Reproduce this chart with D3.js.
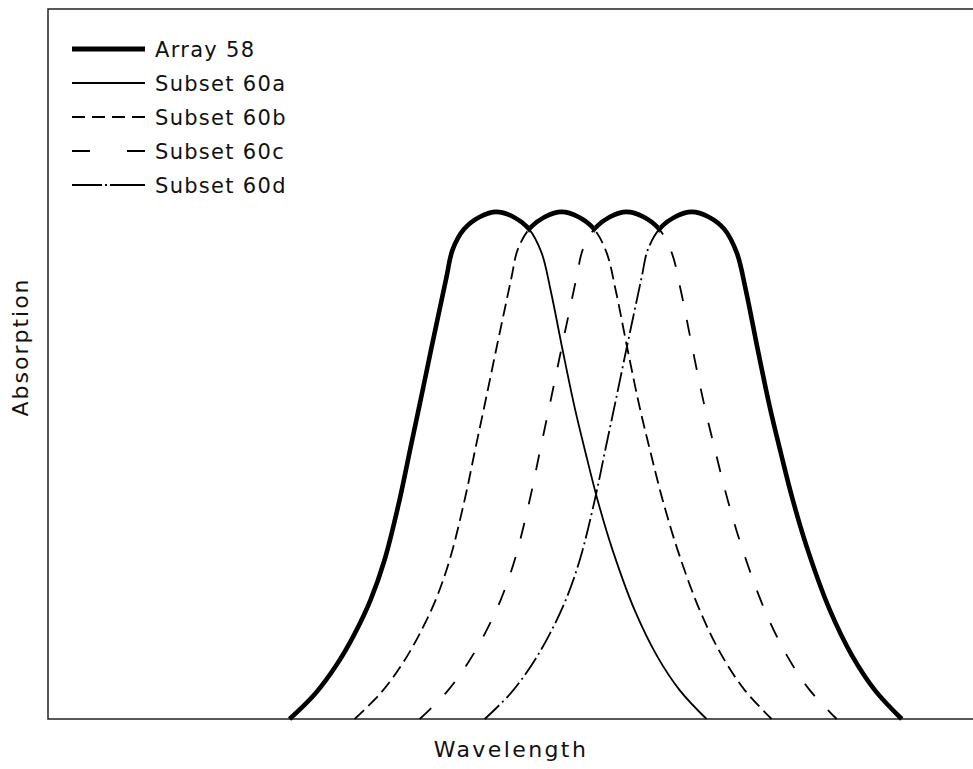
<!DOCTYPE html>
<html>
<head>
<meta charset="utf-8">
<script src="https://cdnjs.cloudflare.com/ajax/libs/d3/7.8.5/d3.min.js"></script>
<style>
  body { margin: 0; background: #fff; }
  text { font-family: "DejaVu Sans", sans-serif; fill: #111; }
</style>
</head>
<body>
<div id="chart"></div>
<script>

// one subset response (offset from its peak, relative absorption)
var profileOffset     = [-22.43, -19.61, -17.33, -15.44, -13.65, -12.13, -10.51, -9.37, -8.23, -7.10, -6.18, -5.42, -4.77, -3.52, -1.84, 0,
                         1.84, 3.52, 4.88, 5.85, 7.15, 8.45, 9.64, 10.94, 12.57, 14.95, 17.33, 19.83, 22.75]
var profileAbsorption = [0, 0.051, 0.107, 0.166, 0.235, 0.314, 0.432, 0.531, 0.629, 0.728, 0.807, 0.872, 0.925, 0.966, 0.990, 1.0,
                         0.990, 0.966, 0.919, 0.846, 0.728, 0.615, 0.525, 0.432, 0.333, 0.215, 0.126, 0.057, 0]

// peak wavelength of each subset (arbitrary units, no ticks in the figure)
var subsetNames = ["Subset 60a", "Subset 60b", "Subset 60c", "Subset 60d"]
var subsetPeaks = [48.6, 55.65, 62.7, 69.75]

var legendLabels = ["Array 58", "Subset 60a", "Subset 60b", "Subset 60c", "Subset 60d"]

var xLabel = "Wavelength"
var yLabel = "Absorption"

// line styles
var subsetDash  = ["none", "13,6", "16,19", "20,4,2,4"]
var legendDash  = ["none", "none", "13,7", "18,37", "30,3,2,3,40"]
var legendWidth = [5, 1.8, 1.8, 1.8, 1.8]

var W = 973, H = 769
var plotL = 48, plotR = 971, plotT = 9, plotB = 719

var x = d3.scaleLinear().domain([0, 100]).range([plotL, plotR])
var y = d3.scaleLinear().domain([0, 1.4]).range([plotB, plotT])

var svg = d3.select("#chart").append("svg")
  .attr("width", W).attr("height", H)

function subsetPoints(peak) {
  var pts = []
  for (var i = 0; i < profileOffset.length; i++) {
    pts.push({ w: peak + profileOffset[i], a: profileAbsorption[i] })
  }
  return pts
}

var line = d3.line()
  .x(function(d) { return x(d.w) })
  .y(function(d) { return y(d.a) })
  .curve(d3.curveCatmullRom.alpha(0.5))

// frame (top, left, bottom)
svg.append("path")
  .attr("d", "M" + W + "," + plotT + "H" + plotL + "V" + plotB + "H" + W)
  .attr("fill", "none").attr("stroke", "#222").attr("stroke-width", 1.5)

// thin subset curves
subsetPeaks.forEach(function(p, i) {
  svg.append("path")
    .datum(subsetPoints(p))
    .attr("d", line)
    .attr("fill", "none")
    .attr("stroke", "#000")
    .attr("stroke-width", 1.8)
    .attr("stroke-dasharray", subsetDash[i])
})

// Array 58 = upper envelope: each subset drawn thick only between the crossings with its neighbours
var defs = svg.append("defs")
subsetPeaks.forEach(function(p, i) {
  var x0 = i == 0 ? plotL : x((subsetPeaks[i - 1] + p) / 2)
  var x1 = i == subsetPeaks.length - 1 ? W : x((subsetPeaks[i + 1] + p) / 2)
  defs.append("clipPath").attr("id", "env" + i)
    .append("rect").attr("x", x0).attr("y", 0).attr("width", x1 - x0).attr("height", plotB + 10)

  svg.append("path")
    .datum(subsetPoints(p))
    .attr("d", line)
    .attr("clip-path", "url(#env" + i + ")")
    .attr("fill", "none")
    .attr("stroke", "#000")
    .attr("stroke-width", 4.6)
    .attr("stroke-linejoin", "round")
})

// legend
var lg = svg.append("g")
legendLabels.forEach(function(lab, i) {
  var ty = 57 + i * 34
  lg.append("line")
    .attr("x1", 72).attr("x2", 145)
    .attr("y1", ty - 8).attr("y2", ty - 8)
    .attr("stroke", "#000")
    .attr("stroke-width", legendWidth[i])
    .attr("stroke-dasharray", legendDash[i])
  lg.append("text")
    .attr("x", 155).attr("y", ty)
    .attr("font-size", 21)
    .attr("letter-spacing", 1.3)
    .text(lab)
})

// axis titles
svg.append("text")
  .attr("x", 511).attr("y", 757)
  .attr("text-anchor", "middle")
  .attr("font-size", 22)
  .attr("letter-spacing", 2.4)
  .text(xLabel)

svg.append("text")
  .attr("transform", "translate(28,347) rotate(-90)")
  .attr("text-anchor", "middle")
  .attr("font-size", 22)
  .attr("letter-spacing", 2)
  .text(yLabel)

</script>
</body>
</html>
